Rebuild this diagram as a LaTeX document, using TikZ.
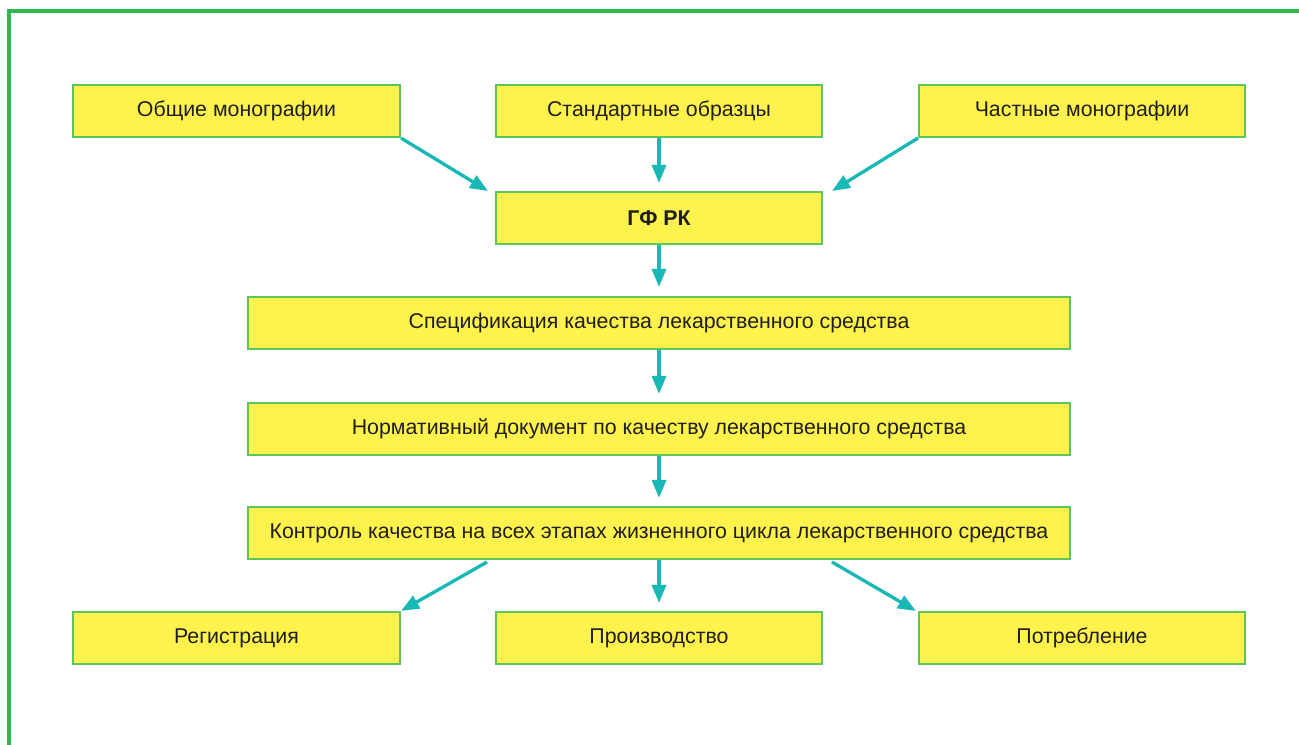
\documentclass[tikz,border=0pt]{standalone}
\usepackage{fontspec}
\setmainfont{Liberation Sans}
\usetikzlibrary{arrows.meta}
\definecolor{framegreen}{HTML}{2DB84B}
\definecolor{boxgreen}{HTML}{5CC65A}
\definecolor{boxyellow}{HTML}{FFF24D}
\definecolor{arrowteal}{HTML}{17B8B5}
\tikzset{
  box/.style={draw=boxgreen, line width=1.6pt, fill=boxyellow, inner sep=0pt,
    font=\fontsize{16}{18}\selectfont, text=black!88},
  conn/.style={draw=arrowteal, line width=2.5pt, -{Triangle[length=13.5pt,width=10.5pt]}}
}
\begin{document}
\begin{tikzpicture}[x=0.75pt,y=-0.75pt]
\useasboundingbox (0,0) rectangle (1299,744);
\begin{scope}
\clip (0,0) rectangle (1299,744);
\draw[framegreen, line width=2.4pt] (9,11) rectangle (1320,770);
\end{scope}
% boxes
\node[box, minimum width=327*0.75pt, minimum height=52*0.75pt] (om) at (236.5,111) {Общие монографии};
\node[box, minimum width=326*0.75pt, minimum height=52*0.75pt] (so) at (659,111) {Стандартные образцы};
\node[box, minimum width=326*0.75pt, minimum height=52*0.75pt] (cm) at (1082,111) {Частные монографии};
\node[box, minimum width=326*0.75pt, minimum height=52*0.75pt, font=\fontsize{16}{18}\selectfont\bfseries] (gf) at (659,218) {ГФ РК};
\node[box, minimum width=822*0.75pt, minimum height=52*0.75pt] (sp) at (659,323) {Спецификация качества лекарственного средства};
\node[box, minimum width=822*0.75pt, minimum height=52*0.75pt] (nd) at (659,429) {Нормативный документ по качеству лекарственного средства};
\node[box, minimum width=822*0.75pt, minimum height=52*0.75pt] (kk) at (659,533) {Контроль качества на всех этапах жизненного цикла лекарственного средства};
\node[box, minimum width=327*0.75pt, minimum height=52*0.75pt] (rg) at (236.5,638) {Регистрация};
\node[box, minimum width=326*0.75pt, minimum height=52*0.75pt] (pr) at (659,638) {Производство};
\node[box, minimum width=326*0.75pt, minimum height=52*0.75pt] (pt) at (1082,638) {Потребление};
% connectors
\coordinate (a1) at (488,191);
\coordinate (a3) at (832,191);
\draw[conn] (om.south east) -- (a1);
\draw[conn] (so.south) -- ([yshift=8*0.75pt]gf.north);
\draw[conn] (cm.south west) -- (a3);
\draw[conn] (gf.south) -- ([yshift=9*0.75pt]sp.north);
\draw[conn] (sp.south) -- ([yshift=8*0.75pt]nd.north);
\draw[conn] (nd.south) -- ([yshift=8*0.75pt]kk.north);
\coordinate (b1) at (487,562);
\coordinate (b3) at (832,562);
\draw[conn] (b1) -- (rg.north east);
\draw[conn] (kk.south) -- ([yshift=8*0.75pt]pr.north);
\draw[conn] (b3) -- ([xshift=-2*0.75pt]pt.north west);
\end{tikzpicture}
\end{document}
